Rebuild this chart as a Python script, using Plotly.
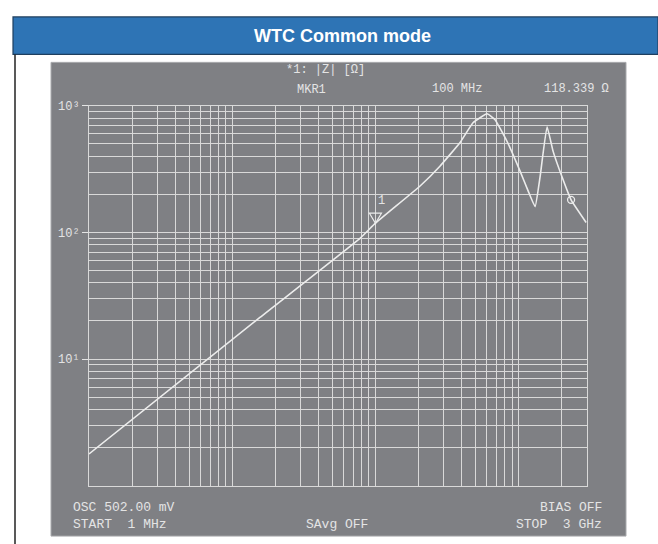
import math
import plotly.graph_objects as go

# |Z| sweep of the common-mode choke, 1 MHz .. 3 GHz
freq_mhz = [1.0, 15.6, 78.0, 100.0, 205, 282, 390, 480, 601, 684, 830,
            1023, 1164, 1302, 1410, 1578, 1740, 2010, 2322, 2958]
z_ohm = [1.78, 21.3, 89.8, 118.339, 233, 334, 514, 736, 866, 778, 523,
         305, 213, 160, 274, 685, 437, 274, 181, 120]

marker_freq = 100.0
marker_z = 118.339
cursor_freq = 2322
cursor_z = 181

title_text = "WTC Common mode"
y_tick_vals = [10, 100, 1000]
y_tick_text = ["10¹", "10²", "10³"]

W, H = 658, 544
SCREEN = "#7f8084"
GRID = "#d9d9d9"
INK = "#e4e4e4"
MONO = "Liberation Mono, Courier New, monospace"


def px(x):
    return x / W


def py(y):
    return 1 - y / H


fig = go.Figure()

fig.add_trace(go.Scatter(
    x=freq_mhz, y=z_ohm, mode="lines",
    line=dict(color="#ececec", width=1.6, shape="spline", smoothing=0.35),
    hoverinfo="skip", showlegend=False))

fig.add_trace(go.Scatter(
    x=[cursor_freq], y=[cursor_z], mode="markers",
    marker=dict(symbol="circle-open", size=7, color="#ececec", line=dict(width=1.3)),
    hoverinfo="skip", showlegend=False))

# invisible trace so the overlay axis carrying the decade labels is drawn
fig.add_trace(go.Scatter(x=[marker_freq], y=[marker_z], yaxis="y2", mode="markers",
                         marker=dict(opacity=0), hoverinfo="skip", showlegend=False))

dom_x = [px(89), px(587)]
dom_y = [py(485), py(101)]

fig.update_layout(
    width=W, height=H,
    margin=dict(l=0, r=0, t=0, b=0),
    paper_bgcolor="white",
    plot_bgcolor=SCREEN,
    xaxis=dict(type="log", range=[0, math.log10(3000)], domain=dom_x,
               dtick="D1", showticklabels=False, ticks="",
               showgrid=True, gridcolor=GRID, gridwidth=1.4,
               showline=True, mirror=True, linecolor=GRID, linewidth=1.4,
               zeroline=False),
    yaxis=dict(type="log", range=[0, 3], domain=dom_y,
               dtick="D1", showticklabels=False, ticks="",
               showgrid=True, gridcolor=GRID, gridwidth=1.4,
               showline=True, mirror=True, linecolor=GRID, linewidth=1.4,
               zeroline=False),
    yaxis2=dict(type="log", range=[0, 3], overlaying="y", side="left",
                tickvals=y_tick_vals, ticktext=y_tick_text,
                ticks="outside", ticklen=6, tickcolor=INK, tickwidth=1,
                tickfont=dict(family=MONO, size=12, color=INK),
                showgrid=False, showline=False, zeroline=False),
    showlegend=False,
)

shapes = [
    # instrument screen
    dict(type="rect", xref="paper", yref="paper", layer="below",
         x0=px(51), x1=px(626), y0=py(536), y1=py(57),
         fillcolor=SCREEN, line=dict(color="#a9aaad", width=1)),
    # title band
    dict(type="rect", xref="paper", yref="paper",
         x0=px(13), x1=1.0, y0=py(49), y1=py(11),
         fillcolor="#2e74b5", line=dict(color="#1f3f5f", width=1.2)),
    # panel frame
    dict(type="line", xref="paper", yref="paper",
         x0=px(15), x1=px(15), y0=0, y1=py(49),
         line=dict(color="#222222", width=1.5)),
    # marker 1 triangle, tip on the trace
    dict(type="path", xref="x", yref="y", xsizemode="pixel", ysizemode="pixel",
         xanchor=marker_freq, yanchor=marker_z,
         path="M -6,10 L 6,10 L 0,0 Z",
         line=dict(color="#ececec", width=1.2), fillcolor="rgba(0,0,0,0)"),
]
fig.update_layout(shapes=shapes)


def label(text, x, y, anchor="center", size=12):
    fig.add_annotation(text=text, xref="paper", yref="paper", x=px(x), y=py(y),
                       xanchor=anchor, yanchor="middle", showarrow=False,
                       font=dict(family=MONO, size=size, color=INK))


fig.add_annotation(text="<b>" + title_text + "</b>", xref="paper", yref="paper",
                   x=px(342), y=py(30), xanchor="center", yanchor="middle",
                   showarrow=False,
                   font=dict(family="Liberation Sans, Arial, sans-serif", size=18,
                             color="white"))

label("*1: |Z| [Ω]", 325, 65)
label("MKR1", 311, 85)
label("100 MHz", 457, 84)
label("118.339 Ω", 576, 84)
label("OSC 502.00 mV", 71, 507, "left", 13)
label("START  1 MHz", 71, 524, "left", 13)
label("SAvg OFF", 337, 524, "center", 13)
label("BIAS OFF", 604, 507, "right", 13)
label("STOP  3 GHz", 604, 524, "right", 13)

fig.add_annotation(text="1", x=math.log10(marker_freq), y=math.log10(marker_z),
                   xref="x", yref="y", showarrow=False, xshift=6, yshift=22,
                   font=dict(family=MONO, size=12, color=INK))

fig.write_html("out.html")
